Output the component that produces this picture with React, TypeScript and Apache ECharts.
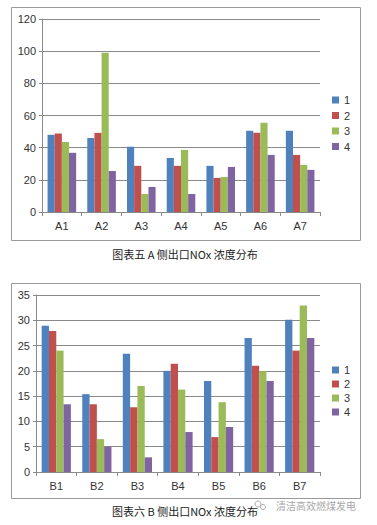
import React, { useEffect, useRef } from "react";
import * as echarts from "echarts";

const categoriesA = ["A1", "A2", "A3", "A4", "A5", "A6", "A7"];
const categoriesB = ["B1", "B2", "B3", "B4", "B5", "B6", "B7"];
const seriesNames = ["1", "2", "3", "4"];
const colors = ["#4F81BD", "#C0504D", "#9BBB59", "#8064A2"];

const a1 = [48, 46, 40.5, 33.6, 28.7, 50.5, 50.5];
const a2 = [48.8, 49.2, 28.7, 28.7, 21.2, 49.2, 35.5];
const a3 = [43.6, 99, 11.2, 38.6, 21.8, 55.5, 29.3];
const a4 = [36.8, 25.5, 15.6, 11.2, 28, 35.5, 26.2];

const b1 = [28.9, 15.4, 23.4, 20, 18, 26.5, 30.1];
const b2 = [27.9, 13.4, 12.8, 21.4, 6.9, 21, 24];
const b3 = [24, 6.5, 17, 16.3, 13.8, 19.9, 32.9];
const b4 = [13.4, 5, 2.9, 7.9, 8.9, 18, 26.5];

const ticksA = { min: 0, max: 120, interval: 20 };
const ticksB = { min: 0, max: 35, interval: 5 };

const captionA = "图表五 A 侧出口NOx 浓度分布";
const captionB = "图表六 B 侧出口NOx 浓度分布";
const watermark = "清洁高效燃煤发电";

const FONT = "Liberation Sans, Arial, sans-serif";
const CJK = "Noto Sans CJK SC, sans-serif";
const GRID = "#8a8a8a";

export default function App() {
  const ref = useRef<HTMLDivElement>(null);
  useEffect(() => {
    if (!ref.current) return;
    const chart = echarts.init(ref.current, undefined, { renderer: "svg" });
    const dataA = [a1, a2, a3, a4];
    const dataB = [b1, b2, b3, b4];
    const xAxisCommon = {
      type: "category" as const,
      axisLine: { lineStyle: { color: GRID } },
      axisTick: { show: true, length: 4, lineStyle: { color: GRID } },
      axisLabel: { color: "#333", fontSize: 11, fontFamily: FONT, margin: 8 },
      splitLine: { show: false },
    };
    const yAxisCommon = {
      type: "value" as const,
      axisLine: { show: true, lineStyle: { color: GRID } },
      axisTick: { show: true, length: 3, lineStyle: { color: GRID } },
      axisLabel: { color: "#333", fontSize: 11, fontFamily: FONT, margin: 6 },
      splitLine: { show: true, lineStyle: { color: GRID, width: 1 } },
    };
    const mkSeries = (data: number[][], idx: number) =>
      data.map((d, i) => ({
        name: seriesNames[i],
        type: "bar" as const,
        xAxisIndex: idx,
        yAxisIndex: idx,
        data: d,
        barGap: "0%",
        barCategoryGap: "28%",
        itemStyle: { color: colors[i] },
      }));
    const legendCommon = {
      orient: "vertical" as const,
      left: 332,
      data: seriesNames,
      icon: "rect",
      itemWidth: 7,
      itemHeight: 7,
      selectedMode: false,
      textStyle: { fontSize: 11, lineHeight: 11, color: "#333", fontFamily: FONT },
      padding: 0,
    };
    chart.setOption({
      animation: false,
      backgroundColor: "#fff",
      color: colors,
      grid: [
        { left: 42, right: 57, top: 19, bottom: 313 },
        { left: 36, right: 57, top: 295, bottom: 53 },
      ],
      xAxis: [
        { ...xAxisCommon, gridIndex: 0, data: categoriesA },
        { ...xAxisCommon, gridIndex: 1, data: categoriesB },
      ],
      yAxis: [
        { ...yAxisCommon, gridIndex: 0, ...ticksA },
        { ...yAxisCommon, gridIndex: 1, ...ticksB },
      ],
      legend: [
        { ...legendCommon, top: 94.5, itemGap: 4.5 },
        { ...legendCommon, top: 364.5, itemGap: 3 },
      ],
      graphic: [
        {
          type: "rect",
          shape: { x: 11.5, y: 7.5, width: 349, height: 233 },
          style: { fill: "none", stroke: "#9a9a9a", lineWidth: 1 },
          silent: true,
        },
        {
          type: "rect",
          shape: { x: 11.5, y: 283.5, width: 349, height: 215 },
          style: { fill: "none", stroke: "#9a9a9a", lineWidth: 1 },
          silent: true,
        },
        {
          type: "text",
          x: 185,
          y: 254,
          style: {
            text: captionA,
            fontSize: 11,
            fontFamily: CJK,
            fill: "#222",
            align: "center",
            verticalAlign: "middle",
          },
        },
        {
          type: "text",
          x: 185,
          y: 511,
          style: {
            text: captionB,
            fontSize: 11,
            fontFamily: CJK,
            fill: "#222",
            align: "center",
            verticalAlign: "middle",
          },
        },
        {
          type: "circle",
          shape: { cx: 258, cy: 504, r: 3 },
          style: { fill: "none", stroke: "#aaa", lineWidth: 1 },
        },
        {
          type: "circle",
          shape: { cx: 263, cy: 507, r: 2.5 },
          style: { fill: "none", stroke: "#aaa", lineWidth: 1 },
        },
        {
          type: "text",
          x: 276,
          y: 505,
          style: {
            text: watermark,
            fontSize: 10,
            fontFamily: CJK,
            fill: "#a8a8a8",
            align: "left",
            verticalAlign: "middle",
          },
        },
      ],
      series: [...mkSeries(dataA, 0), ...mkSeries(dataB, 1)],
    });
    return () => chart.dispose();
  }, []);
  return (
    <div
      ref={ref}
      style={{ position: "fixed", left: 0, top: 0, width: 377, height: 525 }}
    />
  );
}
